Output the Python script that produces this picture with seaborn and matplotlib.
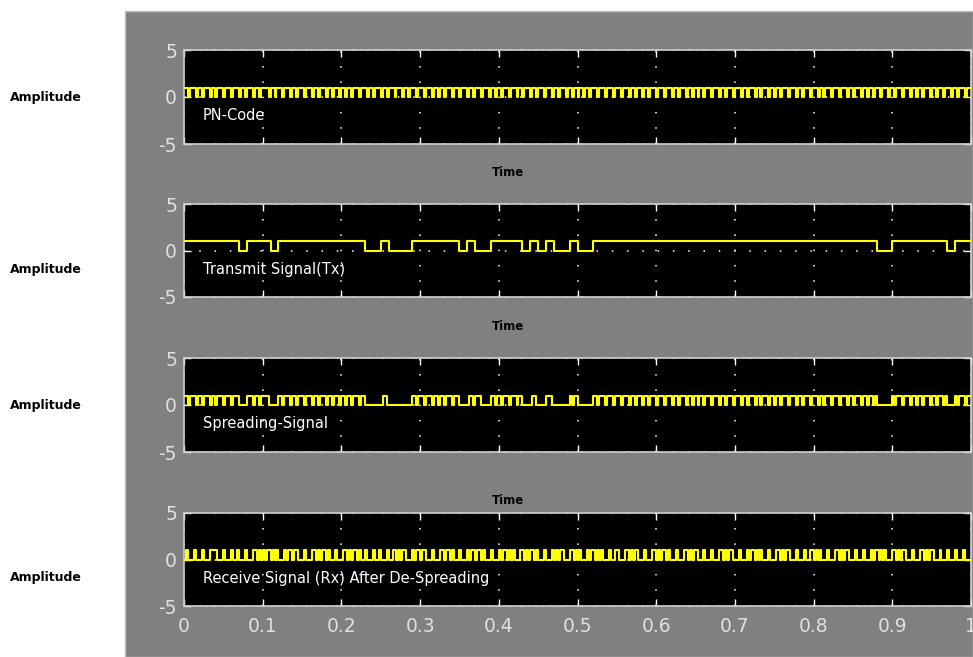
import numpy as np
import pandas as pd
import matplotlib
matplotlib.use("Agg")
import matplotlib.pyplot as plt
from matplotlib.patches import Rectangle
from matplotlib.ticker import FormatStrFormatter
import seaborn as sns

# chip sequences: 400 chips over 0..1 s; data bits: 100 bits over 0..1 s
pn_code = ("11011101101110110111" "01110111011011101101" "11101101110111011011"
           "10111011011101101110" "11011011101110110111" "01101110111011011101"
           "11011101101101110111" "01110110111011101101" "10111011101101110110"
           "11101110110111011011" "01101101110111011101" "11011101101110110111"
           "01110111011011101101" "10110111011101101110" "11101101110110111011"
           "01101110111011011101" "11011011101110111011" "01110110110111011101"
           "10111011101101101110" "11011101110110111011")
tx_bits = ("1111111011" "1011111111" "1110010001" "1111101001" "1110101001"
           "0011111111" "1111111111" "1111111111" "1111111100" "1111111011")
spread = ("11011101101110110111" "01110111000011101101" "11100000110111011011"
          "10111011011101101110" "11011011101100000000" "01100000000000001101"
          "11011101101101110111" "00000110111000001101" "10111011101100000110"
          "00001110000000001011" "00000000110111011101" "11011101101110110111"
          "01110111011011101101" "10110111011101101110" "11101101110110111011"
          "01101110111011011101" "11011011101110111011" "01110110110100000000"
          "10111011101101101110" "11011101000010111011")
rx_desp = ("01000100010001111000" "10001001000100011010" "10110101000101101100"
           "01000110101101000100" "01101011010010001001" "00010011010110001011"
           "01100010001101101000" "10001011011010001000" "10110101000110101101"
           "00010001010110001101" "01000101101010001001" "10001101011000100011"
           "01011010001000110101" "10001000100011010110" "00100010110101000100"
           "01101011000100010011" "01010001000110101100" "01000100010110101000"
           "11010110001000110101" "10001000100010001000")

labels = ["PN-Code", "Transmit Signal(Tx)", "Spreading-Signal",
          "Receive Signal (Rx) After De-Spreading"]
series = [pn_code, tx_bits, spread, rx_desp]
xticks = [0, 0.1, 0.2, 0.3, 0.4, 0.5, 0.6, 0.7, 0.8, 0.9, 1.0]
yticks = [-5, 0, 5]

sns.set_style("dark")
plt.rcParams['font.family'] = ['DejaVu Sans']
plt.rcParams['axes.unicode_minus'] = False

W, H = 973, 657
fig = plt.figure(figsize=(W / 100, H / 100), dpi=100, facecolor='white')
# gray panel behind the axes
bg = Rectangle((125 / W, 0), 1 - 125 / W, 1 - 11 / H,
               transform=fig.transFigure, facecolor='#808080',
               edgecolor='#c0c0c0', linewidth=1, zorder=-10)
fig.patches.append(bg)

# axes boxes in pixels: (top, bottom)
boxes = [(50, 144), (204, 297), (358, 452), (513, 606)]
amp_y = [98, 270, 405, 578]
time_y = [173, 327, 501]

for i, (bits, lab) in enumerate(zip(series, labels)):
    top, bot = boxes[i]
    ax = fig.add_axes([184 / W, 1 - bot / H, 787 / W, (bot - top) / H])
    ax.set_zorder(5)
    vals = [int(c) for c in bits]
    n = len(vals)
    df = pd.DataFrame({'t': np.arange(n + 1) / n, 'v': vals + [vals[-1]]})
    sns.lineplot(data=df, x='t', y='v', ax=ax, drawstyle='steps-post',
                 color='#ffff00', linewidth=1.5, zorder=3)
    ax.set_facecolor('black')
    ax.set_xlim(0, 1)
    ax.set_ylim(-5, 5)
    ax.set_xticks(xticks)
    ax.set_yticks(yticks)
    ax.xaxis.set_major_formatter(FormatStrFormatter('%g'))
    ax.grid(True, color='white', linestyle=(0, (1, 9)), linewidth=1.1)
    ax.tick_params(direction='in', top=True, right=True, bottom=True, left=True,
                   length=5, width=1, color='white', labelcolor='#e0e0e0',
                   labelsize=13.5)
    ax.tick_params(axis='x', pad=8)
    ax.tick_params(axis='y', pad=5)
    if i < 3:
        ax.tick_params(axis='x', labelbottom=False)
    for sp in ax.spines.values():
        sp.set_color('#d0d0d0')
        sp.set_linewidth(1.2)
        sp.set_visible(True)
    ax.set_xlabel('')
    ax.set_ylabel('')
    ax.text(0.024, -2, lab, color='white', fontsize=10.5, va='center', ha='left')
    fig.text(10 / W, 1 - amp_y[i] / H, 'Amplitude', fontsize=9, fontweight='bold',
             va='center', ha='left', color='black')
    if i < 3:
        fig.text(508 / W, 1 - time_y[i] / H, 'Time', fontsize=8.5, fontweight='bold',
                 va='center', ha='center', color='black')

fig.savefig('out.png', dpi=100, facecolor=fig.get_facecolor())
